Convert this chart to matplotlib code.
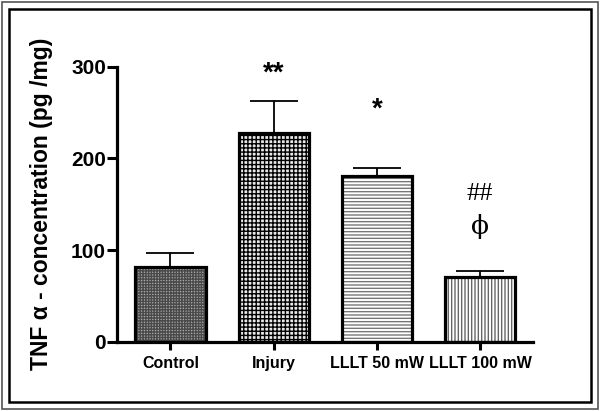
import matplotlib
matplotlib.use('Agg')
import matplotlib.pyplot as plt
from matplotlib.patches import Rectangle

groups = ["Control", "Injury", "LLLT 50 mW", "LLLT 100 mW"]
means = [82, 228, 181, 71]
sem = [15, 34, 9, 6]

plt.rcParams['font.family'] = ['Liberation Sans', 'DejaVu Sans']
plt.rcParams['hatch.linewidth'] = 1.0

fig = plt.figure(figsize=(6, 4.11), dpi=100)
ax = fig.add_axes([0.195, 0.168, 0.693, 0.670])

# fill + hatch, hatch colour set through edgecolor
faces = ["#a8a8a8", "#e8e8e8", "white", "white"]
hatches = ["++++++", "++++", "-----", "|||||"]
hcols = ["#4a4a4a", "black", "#777777", "#666666"]
x = range(len(groups))
for i in x:
    ax.bar(i, means[i], width=0.68, color=faces[i], hatch=hatches[i],
           edgecolor=hcols[i], linewidth=0, zorder=2)
ax.bar(x, means, width=0.68, fill=False, edgecolor="black", linewidth=2.3, zorder=3)
ax.errorbar(x, means, yerr=[[0] * 4, sem], fmt='none', ecolor="black",
            elinewidth=1.3, capsize=17, capthick=1.3, zorder=1)

ax.set_xlim(-0.518, 3.51)
ax.set_ylim(0, 300)
ax.set_yticks([0, 100, 200, 300])
ax.set_xticks(list(x))
ax.set_xticklabels(groups, fontsize=11.5, fontweight='bold')
ax.tick_params(axis='y', length=7, width=2.2, labelsize=15, pad=1)
ax.tick_params(axis='x', length=6, width=2.2, pad=4)
for lab in ax.get_yticklabels():
    lab.set_fontweight('bold')
for s in ['top', 'right']:
    ax.spines[s].set_visible(False)
for s in ['left', 'bottom']:
    ax.spines[s].set_linewidth(2.3)

ax.set_ylabel("TNF α - concentration (pg /mg)", fontsize=16.5, fontweight='bold')
ax.yaxis.set_label_coords(-0.154, 0.5)

ax.text(1, 292, "**", ha='center', va='center', fontsize=20, fontweight='bold')
ax.text(2, 253, "*", ha='center', va='center', fontsize=20, fontweight='bold')
ax.text(3, 161, "##", ha='center', va='center', fontsize=19,
        family=['Liberation Serif', 'DejaVu Serif'])
ax.text(3, 126, "ϕ", ha='center', va='center', fontsize=19,
        family=['DejaVu Serif', 'Liberation Serif'])

# double frame around the figure
fig.patches.append(Rectangle((0.003, 0.004), 0.994, 0.992, transform=fig.transFigure,
                             fill=False, edgecolor="#555555", linewidth=1.2))
fig.patches.append(Rectangle((9 / 600, 9 / 411), 582 / 600, 393 / 411, transform=fig.transFigure,
                             fill=False, edgecolor="black", linewidth=1.8))

plt.savefig("out.png", dpi=100)
plt.close()
